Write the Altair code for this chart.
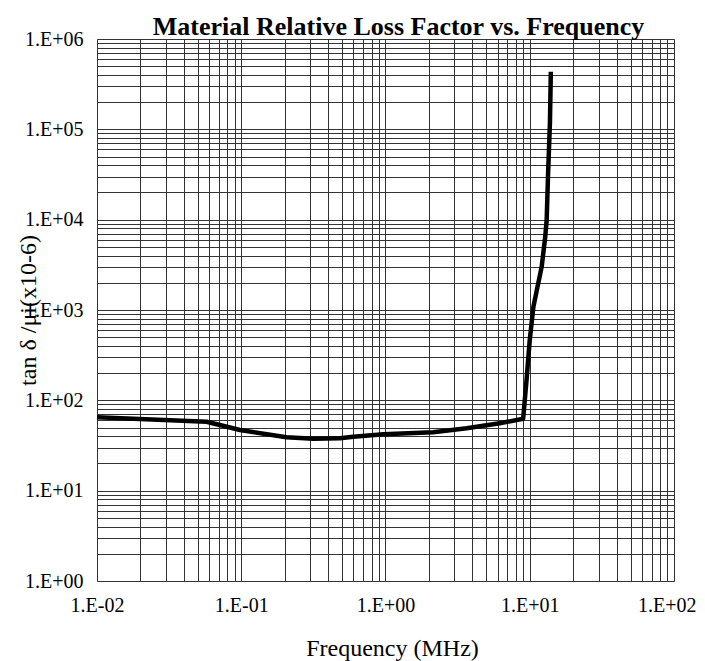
import altair as alt
import pandas as pd

# ---- data ----
freq_mhz = [0.01, 0.0575, 0.098, 0.206, 0.316, 0.483, 0.598, 0.966, 2.14, 3.65,
            6.2, 9.0, 9.5, 10.0, 10.6, 12.1, 12.8, 13.1, 13.4, 13.8, 14.0]
loss_factor = [65, 58, 47, 39, 37.6, 38, 39.5, 42, 44.3, 49,
               55.7, 62.6, 168, 466, 1088, 3018, 6450, 9900, 32600, 116700, 434000]

x_major = [0.01, 0.1, 1, 10, 100]
x_labels = ["1.E-02", "1.E-01", "1.E+00", "1.E+01", "1.E+02"]
y_major = [1, 10, 100, 1000, 10000, 100000, 1000000]
y_labels = ["1.E+00", "1.E+01", "1.E+02", "1.E+03", "1.E+04", "1.E+05", "1.E+06"]
minor_steps = [1, 2, 3, 4, 5, 6, 7, 8, 9]

title_text = "Material Relative Loss Factor vs. Frequency"
x_title = "Frequency (MHz)"
y_title = "tan δ /μi(x10-6)"


def grid_values(majors):
    vals = []
    for m in majors[:-1]:
        for s in minor_steps:
            vals.append(m if s == 1 else s * m)
    vals.append(majors[-1])
    return vals


def label_expr(majors, labels):
    expr = "''"
    for m, lab in reversed(list(zip(majors, labels))):
        expr = f"datum.value == {m!r} ? '{lab}' : ({expr})"
    return expr


df = pd.DataFrame({"f": freq_mhz, "v": loss_factor})

FONT = "Liberation Serif"
last_x = f"datum.value == {x_major[-1]!r}"

x_axis = alt.Axis(
    values=grid_values(x_major),
    labelExpr=label_expr(x_major, x_labels),
    grid=True, gridColor="#333333", gridWidth=1, gridOpacity=1,
    ticks=False, domain=False,
    labelOverlap=False, labelFlush=False, labelBound=False,
    labelFont=FONT, labelFontSize=20, labelColor="black", labelPadding=14,
    labelAlign={"condition": {"test": last_x, "value": "right"}, "value": "center"},
    labelOffset={"condition": {"test": last_x, "value": 22}, "value": 0},
    title=x_title, titleFont=FONT, titleFontSize=24, titleFontWeight="normal",
    titleColor="black", titleX=295, titleY=74, titleBaseline="alphabetic",
    titleAlign="center",
)

y_axis = alt.Axis(
    values=grid_values(y_major),
    labelExpr=label_expr(y_major, y_labels),
    grid=True, gridColor="#333333", gridWidth=1, gridOpacity=1,
    ticks=False, domain=False,
    labelOverlap=False, labelFlush=False, labelBound=False,
    labelFont=FONT, labelFontSize=20, labelColor="black", labelPadding=14,
    title=y_title, titleFont=FONT, titleFontSize=24, titleFontWeight="normal",
    titleColor="black", titleX=-62, titleY=271, titleAngle=270,
    titleBaseline="alphabetic", titleAlign="center",
)

chart = (
    alt.Chart(df)
    .mark_line(color="black", strokeWidth=4.5, strokeJoin="round")
    .encode(
        x=alt.X("f:Q", scale=alt.Scale(type="log", domain=[0.01, 100], nice=False), axis=x_axis),
        y=alt.Y("v:Q", scale=alt.Scale(type="log", domain=[1, 1000000], nice=False), axis=y_axis),
    )
    .properties(
        width=577,
        height=542,
        title=alt.Title(
            title_text, font=FONT, fontSize=26, fontWeight="bold", color="black",
            anchor="middle", frame="group", dx=13, dy=37, offset=0, baseline="bottom",
        ),
        autosize=alt.AutoSizeParams(type="none"),
        padding={"left": 89, "top": 31, "right": 23, "bottom": 80},
    )
    .configure_view(stroke="black", strokeWidth=2)
    .configure(background="white")
)

chart.save("out.html", embed_options={"renderer": "svg", "actions": False})
